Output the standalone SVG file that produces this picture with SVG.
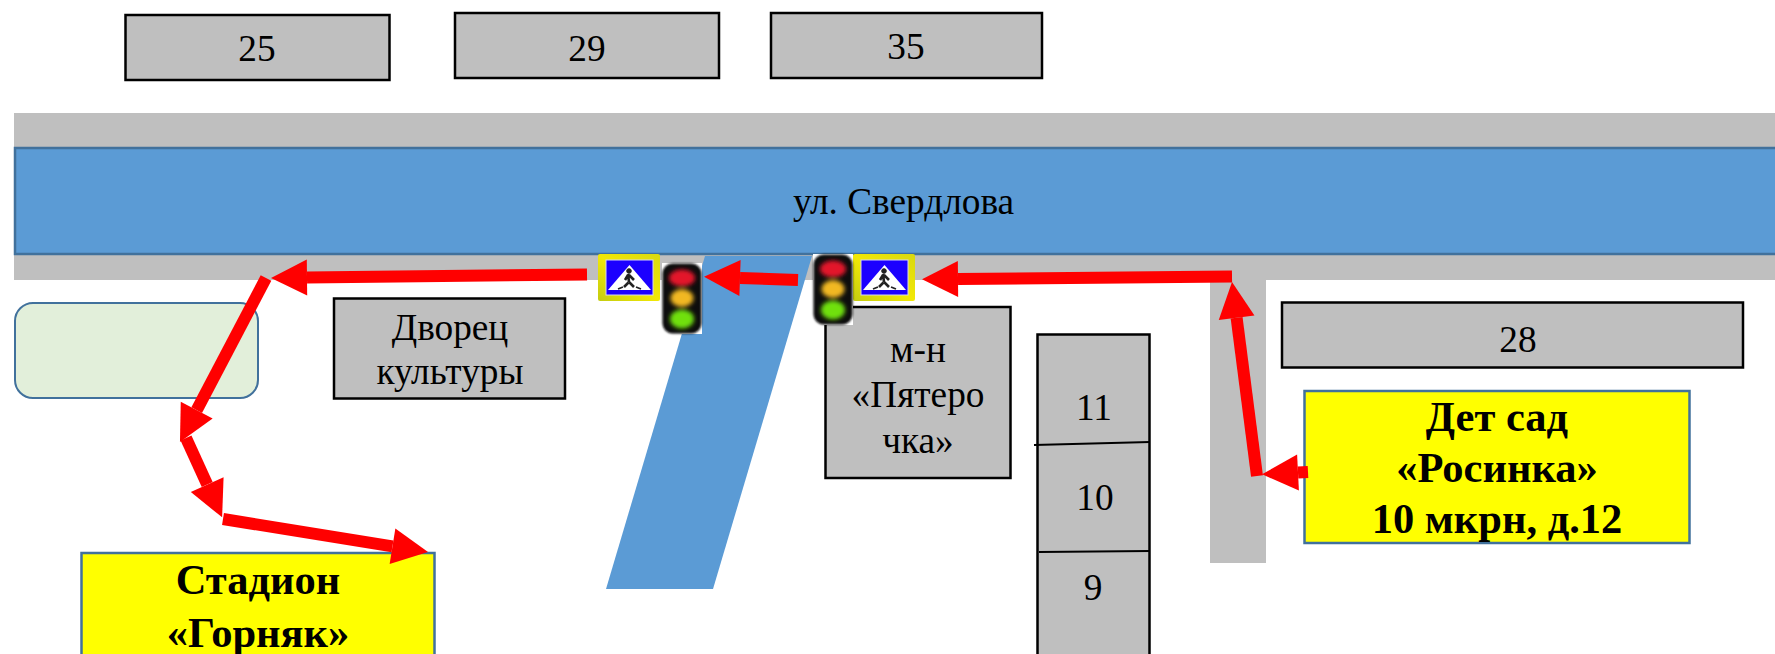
<svg xmlns="http://www.w3.org/2000/svg" width="1775" height="654" viewBox="0 0 1775 654">
<style>
text{font-family:"Liberation Serif","Times New Roman",serif;text-anchor:middle;fill:#000}
.t{font-size:37.300px}
.b{font-size:42.500px;font-weight:bold}
.g{fill:#bfbfbf;stroke:#000;stroke-width:2.500}
.y{fill:#ff0;stroke:#41719c;stroke-width:2.500}
.a{stroke:#f00;stroke-width:12;fill:none;marker-end:url(#h)}
.d{stroke:#000;stroke-width:2;fill:none}
</style>
<defs>
<marker id="h" markerUnits="userSpaceOnUse" markerWidth="36" markerHeight="36" refX="0" refY="18" viewBox="0 0 36 36" orient="auto" overflow="visible"><polygon points="0,0 36,18 0,36" fill="#f00"/></marker>
<linearGradient id="sg" x1="0" y1="1" x2="1" y2="0"><stop offset="0" stop-color="#c4cc10"/><stop offset=".5" stop-color="#f2e806"/><stop offset="1" stop-color="#d8d810"/></linearGradient>
<filter id="bl" x="-30%" y="-30%" width="160%" height="160%"><feGaussianBlur stdDeviation="2"/></filter>
<filter id="bs" x="-10%" y="-10%" width="120%" height="120%"><feGaussianBlur stdDeviation="0.800"/></filter>
<g id="sign">
<rect width="62" height="47" rx="2" fill="url(#sg)"/>
<rect x="8" y="6" width="47" height="35" fill="#1c00ff" stroke="#d6d6f0" stroke-width="1"/>
<polygon points="31.500,11 53,36 10,36" fill="#fff"/>
<g fill="#222" stroke="#222">
<circle cx="31" cy="17" r="2.300"/>
<path d="M30 20 L31 28 M31 28 L26 33 M31 28 L36 33 M31 21 L36 26 M30 21 L27 26" stroke-width="2.600" fill="none"/>
<path d="M20 35 L25 33 M38 33 L43 35" stroke-width="1.800" fill="none"/>
</g>
</g>
<g id="light">
<rect width="40" height="71" fill="#fff"/>
<rect x="0.500" y="0.500" width="39" height="70" rx="10" fill="#0a0a0a" filter="url(#bs)"/>
<g filter="url(#bl)">
<ellipse cx="20" cy="15" rx="13" ry="8.500" fill="#e3142a"/>
<ellipse cx="20" cy="35" rx="11.500" ry="9" fill="#f1b824"/>
<ellipse cx="20" cy="56" rx="12" ry="9.500" fill="#6fe010"/>
</g>
</g>
</defs>
<rect width="1775" height="654" fill="#fff"/>
<g id="roads">
<rect x="14" y="113" width="1761" height="36" fill="#bfbfbf"/>
<rect x="14" y="254" width="1761" height="26" fill="#bfbfbf"/>
<rect x="1210" y="254" width="56" height="309" fill="#bfbfbf"/>
<rect x="15" y="148" width="1763" height="106" fill="#5b9bd5" stroke="#41719c" stroke-width="2.500"/>
<polygon points="705,256 812,256 713,589 606,589" fill="#5b9bd5"/>
</g>
<g id="street-label"><text class="t" x="903.500" y="214">ул. Свердлова</text></g>
<g id="b25"><rect class="g" x="125.500" y="15" width="264" height="65"/><text class="t" x="257" y="61">25</text></g>
<g id="b29"><rect class="g" x="455" y="13" width="264" height="65"/><text class="t" x="587" y="61">29</text></g>
<g id="b35"><rect class="g" x="771" y="13" width="271" height="65"/><text class="t" x="906" y="59">35</text></g>
<g id="park"><rect x="15" y="303" width="243" height="95" rx="18" fill="#e2efda" stroke="#41719c" stroke-width="2"/></g>
<g id="dk"><rect class="g" x="334" y="298.500" width="231" height="100"/><text class="t" x="450" y="340">Дворец</text><text class="t" x="450" y="384">культуры</text></g>
<g id="shop"><rect class="g" x="825.500" y="307" width="185" height="171"/><text class="t" x="918" y="362">м-н</text><text class="t" x="918" y="407">«Пятеро</text><text class="t" x="918" y="453">чка»</text></g>
<g id="b28"><rect class="g" x="1282" y="302.500" width="461" height="65"/><text class="t" x="1518" y="352">28</text></g>
<g id="tall"><rect class="g" x="1037.500" y="334.500" width="112" height="330"/>
<path class="d" d="M1034 445 L1150 442 M1039 552 L1150 551"/>
<text class="t" x="1094" y="420">11</text><text class="t" x="1095" y="510">10</text><text class="t" x="1093" y="600">9</text></g>
<g id="kindergarten"><rect class="y" x="1304.500" y="391" width="385" height="152"/><text class="b" x="1497" y="431">Дет сад</text><text class="b" x="1497" y="482">«Росинка»</text><text class="b" x="1497" y="533">10 мкрн, д.12</text></g>
<g id="stadium"><rect class="y" x="81.500" y="553" width="353" height="120"/><text class="b" x="258" y="594">Стадион</text><text class="b" x="258" y="647">«Горняк»</text></g>
<g id="signs"><use href="#sign" x="598" y="254"/><use href="#sign" x="853" y="254"/></g>
<g id="lights"><use href="#light" x="662" y="263"/><use href="#light" x="813" y="254"/></g>
<g id="connectors">
<line class="a" x1="1232" y1="276.500" x2="958" y2="279"/>
<line class="a" x1="798" y1="280" x2="740" y2="278"/>
<line class="a" x1="587" y1="274.500" x2="307" y2="277.500"/>
<line class="a" x1="266" y1="278" x2="196.700" y2="410.100"/>
<line class="a" x1="186" y1="438" x2="207.200" y2="484.600"/>
<line class="a" x1="223" y1="519" x2="392.500" y2="546.300"/>
<line class="a" x1="1308" y1="472" x2="1298" y2="472.500"/>
<line class="a" x1="1257" y1="476" x2="1236.600" y2="317.700"/>
</g>
</svg>
